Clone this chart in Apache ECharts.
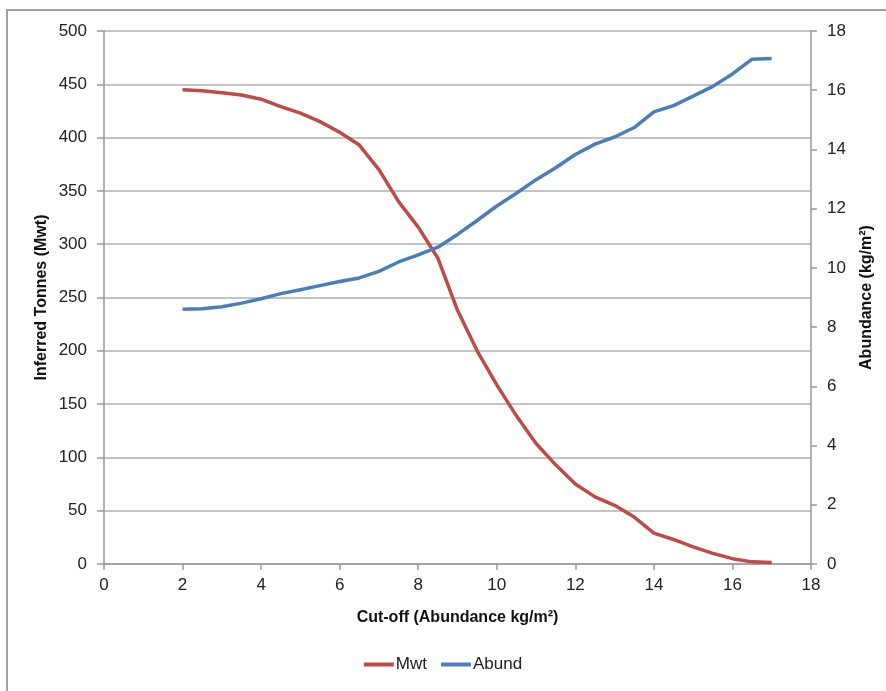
<!DOCTYPE html>
<html>
<head>
<meta charset="utf-8">
<script src="https://cdn.jsdelivr.net/npm/echarts@6/dist/echarts.min.js"></script>
<style>html,body{margin:0;padding:0;background:#fff}#c{width:886px;height:691px}</style>
</head>
<body>
<div id="c"></div>
<script>
const cutoff = [2,2.5,3,3.5,4,4.5,5,5.5,6,6.5,7,7.5,8,8.5,9,9.5,10,10.5,11,11.5,12,12.5,13,13.5,14,14.5,15,15.5,16,16.5,17];
const mwt = [445,444,442,440,436,429,423,415,405,393,370,340,316,287,238,200,168,139,113,93,75,63,55,44,29,23,16,10,5,2,1.5];
const abund = [8.6,8.62,8.69,8.81,8.96,9.13,9.26,9.4,9.54,9.66,9.88,10.2,10.44,10.7,11.13,11.6,12.09,12.52,12.98,13.38,13.83,14.18,14.42,14.74,15.27,15.48,15.8,16.13,16.55,17.05,17.07];

const xTicks = {min:0, max:18, interval:2};
const yLeft = {min:0, max:500, interval:50};
const yRight = {min:0, max:18, interval:2};

const font = 'Liberation Sans';
const chart = echarts.init(document.getElementById('c'), null, {renderer:'canvas'});
chart.setOption({
  animation:false,
  backgroundColor:'#fff',
  textStyle:{fontFamily:font},
  graphic:[{type:'rect', shape:{x:7,y:10,width:900,height:700}, style:{fill:'none', stroke:'#a0a0a0', lineWidth:2}, silent:true}],
  grid:{left:104, right:75, top:31, bottom:127, containLabel:false},
  legend:{
    bottom:13, left:'center',
    icon:'rect', itemWidth:30, itemHeight:4, itemGap:14,
    textStyle:{fontFamily:font, fontSize:17, color:'#222', padding:[0,0,0,-3]},
    data:['Mwt','Abund']
  },
  xAxis:{
    type:'value', min:xTicks.min, max:xTicks.max, interval:xTicks.interval,
    name:'Cut-off (Abundance kg/m²)', nameLocation:'middle', nameGap:46,
    nameTextStyle:{fontFamily:font, fontSize:16, fontWeight:'bold', color:'#111'},
    axisLine:{show:true, onZero:false, lineStyle:{color:'#999', width:1.5}},
    axisTick:{show:true, inside:false, length:6, lineStyle:{color:'#999', width:1.5}},
    axisLabel:{margin:13, fontSize:17, color:'#222', fontFamily:font},
    splitLine:{show:false}
  },
  yAxis:[{
    type:'value', position:'left', min:yLeft.min, max:yLeft.max, interval:yLeft.interval,
    name:'Inferred Tonnes (Mwt)', nameLocation:'middle', nameGap:54, nameRotate:90, nameMoveOverlap:false,
    nameTextStyle:{fontFamily:font, fontSize:16, fontWeight:'bold', color:'#111'},
    axisLine:{show:true, lineStyle:{color:'#999', width:1.5}},
    axisTick:{show:true, inside:false, length:7, lineStyle:{color:'#999', width:1.5}},
    axisLabel:{margin:17, fontSize:17, color:'#222', fontFamily:font},
    splitLine:{show:true, lineStyle:{color:'#b0b0b0', width:1.5}}
  },{
    type:'value', position:'right', min:yRight.min, max:yRight.max, interval:yRight.interval,
    name:'Abundance (kg/m²)', nameLocation:'middle', nameGap:48, nameRotate:90, nameMoveOverlap:false,
    nameTextStyle:{fontFamily:font, fontSize:16, fontWeight:'bold', color:'#111'},
    axisLine:{show:true, lineStyle:{color:'#999', width:1.5}},
    axisTick:{show:true, inside:false, length:6, lineStyle:{color:'#999', width:1.5}},
    axisLabel:{margin:16, fontSize:17, color:'#222', fontFamily:font},
    splitLine:{show:false}
  }],
  series:[{
    name:'Mwt', type:'line', yAxisIndex:0, symbol:'none', smooth:false,
    lineStyle:{color:'#be4b48', width:3.5}, itemStyle:{color:'#be4b48'},
    data:cutoff.map((x,i)=>[x,mwt[i]])
  },{
    name:'Abund', type:'line', yAxisIndex:1, symbol:'none', smooth:false,
    lineStyle:{color:'#4a7ebb', width:3.5}, itemStyle:{color:'#4a7ebb'},
    data:cutoff.map((x,i)=>[x,abund[i]])
  }]
});
</script>
</body>
</html>
